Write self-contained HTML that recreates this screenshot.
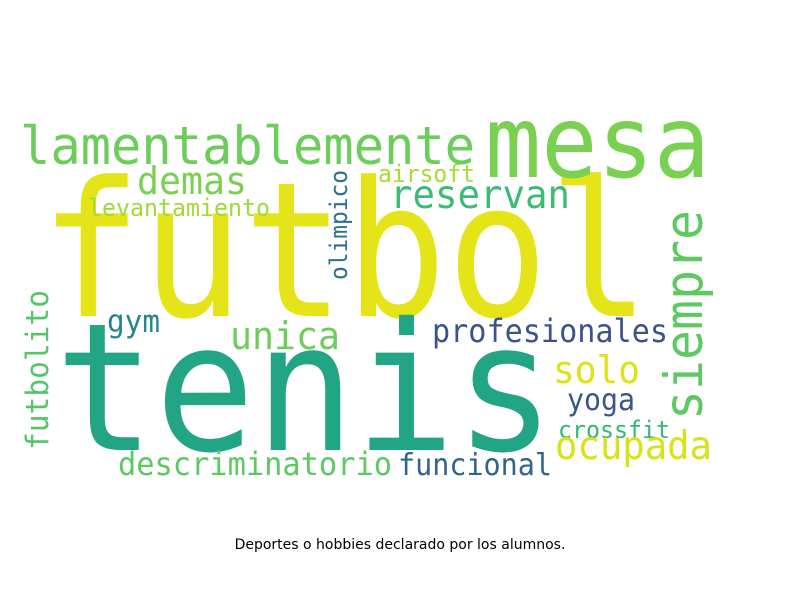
<!DOCTYPE html>
<html><head><meta charset="utf-8"><style>
html,body{margin:0;padding:0;background:#fff;width:800px;height:600px;overflow:hidden}
svg text{font-family:"DejaVu Sans Mono","Liberation Mono",monospace}
</style></head><body>
<svg width="800" height="600">
<g id="cloud"></g>
<text x="400" y="549" text-anchor="middle" style="font-family:'DejaVu Sans','Liberation Sans',sans-serif;font-size:14px" fill="#000">Deportes o hobbies declarado por los alumnos.</text>
</svg>
<script>
const words=["futbol","tenis","mesa","lamentablemente","demas","reservan","airsoft","levantamiento","olimpico","siempre","futbolito","gym","unica","profesionales","solo","yoga","crossfit","ocupada","descriminatorio","funcional"];
const sizes=[188,178,100,53,38,39,24,24,24,53,31,31,38,32,38,30,24,39,32,30];
const colors=["#e5e419","#21a585","#7ad151","#6ccd5a","#7ad151","#3bbb75","#a8db34","#a0da39","#2c728e","#5ec962","#54c568","#25858e","#6ccd5a","#3b528b","#dde318","#39568c","#35b779","#d8e219","#5ec962","#33638d"];
// layout: x, baseline y, length, vertical
const layout=[[40,316,610,0],[55,450,500,0],[485,177,225,0],[20,164,455,0],[137,194,110,0],[390,208,180,0],[378,182,97,0],[88,216,182,0],[347,280,110,1],[702,420,210,1],[48,450,160,1],[107,332,53,0],[230,349,110,0],[432,342,236,0],[553,383,87,0],[567,410,68,0],[558,438,112,0],[555,459,157,0],[118,475,274,0],[398,475,154,0]];
const g=document.getElementById('cloud');
const NS="http://www.w3.org/2000/svg";
words.forEach((w,i)=>{
  const [x,y,len,v]=layout[i];
  const t=document.createElementNS(NS,'text');
  
  
  t.textContent=w;
  t.setAttribute('font-size',sizes[i]);
  t.setAttribute('fill',colors[i]);
  t.setAttribute('textLength',len);
  t.setAttribute('lengthAdjust','spacingAndGlyphs');
  if(v){t.setAttribute('x',0);t.setAttribute('y',0);t.setAttribute('transform','translate('+x+','+y+') rotate(-90)');}
  else{t.setAttribute('x',x);t.setAttribute('y',y);}
  g.appendChild(t);
});
</script>
</body></html>
